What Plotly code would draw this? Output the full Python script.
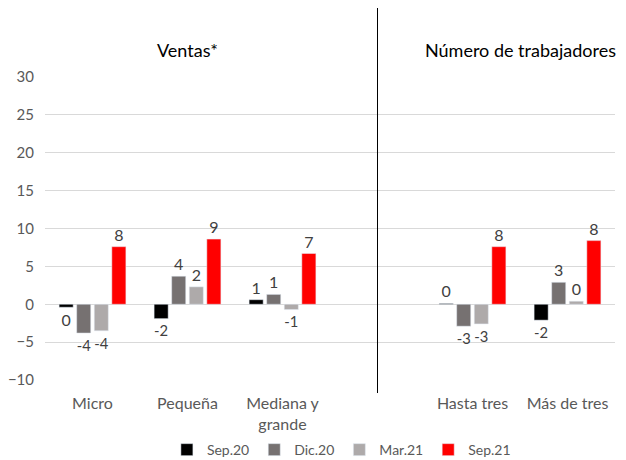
import plotly.graph_objects as go

# Datos
categorias = ['Micro', 'Pequeña', 'Mediana y<br>grande', 'Hasta tres', 'Más de tres']
posiciones = [0, 1, 2, 4, 5]
series = ['Sep.20', 'Dic.20', 'Mar.21', 'Sep.21']
sep20 = [-0.4, -1.9, 0.6, 0.1, -2.1]
dic20 = [-3.8, 3.7, 1.3, -2.9, 2.9]
mar21 = [-3.5, 2.3, -0.7, -2.6, 0.4]
sep21 = [7.6, 8.6, 6.7, 7.6, 8.4]
colores = ['#000000', '#767171', '#AEAAAA', '#FF0000']

fig = go.Figure()

for nombre, valores, color in zip(series, [sep20, dic20, mar21, sep21], colores):
    fig.add_trace(go.Bar(
        x=posiciones,
        y=valores,
        name=nombre,
        marker_color=color,
        text=[f'{round(v):.0f}' for v in valores],
        textposition='outside',
        textfont=dict(color='#404040', size=16),
        cliponaxis=False,
    ))

# Línea separadora
fig.add_shape(type='line', xref='x', yref='paper',
              x0=3, x1=3, y0=-0.043, y1=1.228,
              line=dict(color='#000000', width=1))

# Títulos de cada bloque
fig.add_annotation(x=1, y=1.132, xref='x', yref='paper', text='Ventas*',
                   showarrow=False, font=dict(size=18, color='#000000'))
fig.add_annotation(x=4.5, y=1.132, xref='x', yref='paper', text='Número de trabajadores',
                   showarrow=False, font=dict(size=18, color='#000000'))

# la página tiene 8px de margen en el body, por eso 618x452
fig.update_layout(
    width=618, height=452,
    margin=dict(l=37, r=11, t=69, b=80, autoexpand=False),
    paper_bgcolor='white', plot_bgcolor='white',
    font=dict(family='Lato', size=16, color='#595959'),
    barmode='group', bargap=0.26, bargroupgap=0.2,
    showlegend=True,
    legend=dict(orientation='h', x=0.52, xanchor='center', y=0.022, yanchor='middle',
                yref='container', font=dict(size=14, color='#595959'),
                itemwidth=30, tracegroupgap=0),
)

fig.update_xaxes(
    range=[-0.5, 5.5],
    tickvals=posiciones, ticktext=categorias,
    showgrid=False, zeroline=False, showline=False,
    ticks='', ticklabelstandoff=12, automargin=False,
)
fig.update_yaxes(
    range=[-10, 30], dtick=5,
    tickfont=dict(size=15),
    showgrid=True, gridcolor='#D9D9D9', gridwidth=1,
    zeroline=True, zerolinecolor='#D9D9D9', zerolinewidth=1,
    showline=False, ticks='', ticklabelstandoff=10, automargin=False,
)

fig.write_html('out.html')
